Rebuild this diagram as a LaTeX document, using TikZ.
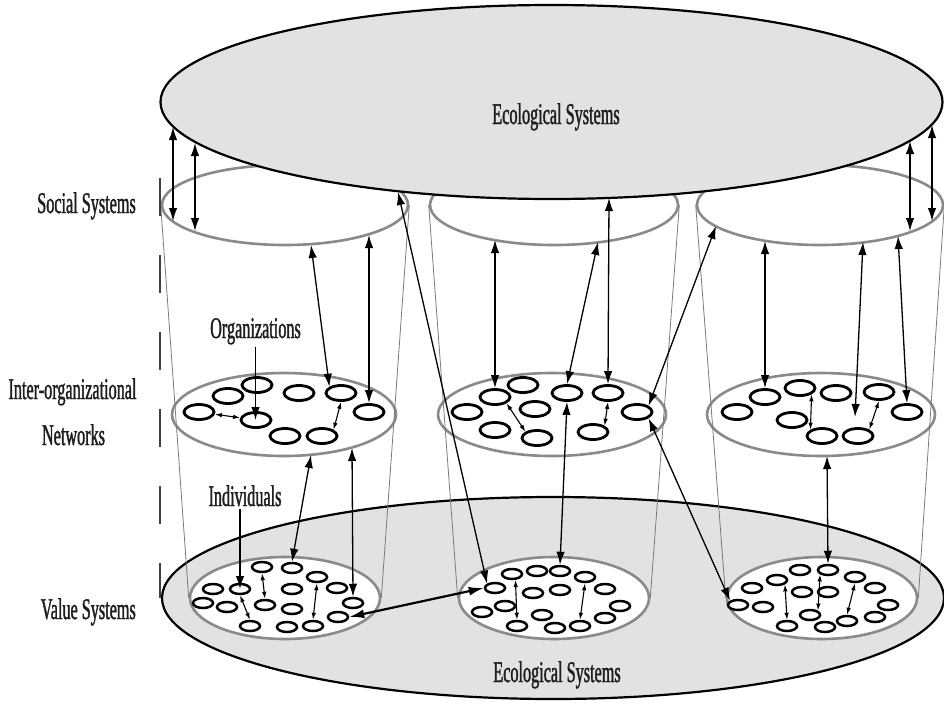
\documentclass[tikz,border=0pt]{standalone}
\usepackage{fontspec}
\newfontfamily\lbl[FakeStretch=0.54,FakeBold=1.2]{Liberation Serif}
\usetikzlibrary{shapes.geometric,arrows.meta,calc}
\definecolor{ecofill}{HTML}{E2E2E2}
\definecolor{discline}{HTML}{8A8A8A}
\definecolor{sideline}{HTML}{7A7A7A}
\definecolor{txt}{HTML}{1E1E1E}
\begin{document}
\begin{tikzpicture}[x=1pt,y=-1pt,
  eco/.style={ellipse, draw=black, line width=2.2pt, fill=ecofill, inner sep=0pt},
  disc/.style={ellipse, draw=discline, line width=2.6pt, fill=white, inner sep=0pt},
  side/.style={draw=sideline, line width=0.8pt},
  org/.style={ellipse, draw=black, line width=2.8pt, fill=white, minimum width=30pt, minimum height=15pt, inner sep=0pt},
  ind/.style={ellipse, draw=black, line width=2.5pt, fill=white, minimum width=20pt, minimum height=10pt, inner sep=0pt},
  dar/.style={{Latex[length=13pt,width=8.5pt]}-{Latex[length=13pt,width=8.5pt]}, line width=1.3pt},
  tdar/.style={{Latex[length=15pt,width=9pt]}-{Latex[length=15pt,width=9pt]}, line width=2.2pt},
  sdar/.style={{Latex[length=7pt,width=4.5pt]}-{Latex[length=7pt,width=4.5pt]}, line width=1.1pt},
  sar/.style={-{Latex[length=13pt,width=8.5pt]}, line width=1.3pt},
  lab/.style={font=\lbl\fontsize{30}{36}\selectfont, text=txt, inner sep=2pt}
]
\useasboundingbox (0,0) rectangle (944,707);

% bottom ecological ellipse
\node[eco, minimum width=782pt, minimum height=202pt] (ecobot) at (553,598) {};

% bottom discs
\node[disc, minimum width=190pt, minimum height=82pt] (bd1) at (285,598) {};
\node[disc, minimum width=190pt, minimum height=82pt] (bd2) at (554,598) {};
\node[disc, minimum width=190pt, minimum height=82pt] (bd3) at (822,598) {};

% middle discs
\node[disc, minimum width=224pt, minimum height=83pt] (md1) at (284,414.5) {};
\node[disc, minimum width=228pt, minimum height=83pt] (md2) at (552,414.5) {};
\node[disc, minimum width=228pt, minimum height=83pt] (md3) at (821,414.5) {};

% social ellipses
\node[disc, minimum width=246pt, minimum height=80pt] (soc1) at (285,205) {};
\node[disc, minimum width=248pt, minimum height=80pt] (soc2) at (554,205) {};
\node[disc, minimum width=246pt, minimum height=80pt] (soc3) at (820,205) {};

% cylinder sides
\draw[side] (soc1.west) -- (bd1.west);
\draw[side] (soc1.east) -- (bd1.east);
\draw[side] (soc2.west) -- (bd2.west);
\draw[side] (soc2.east) -- (bd2.east);
\draw[side] (soc3.west) -- (bd3.west);
\draw[side] (soc3.east) -- (bd3.east);

% top ecological ellipse
\node[eco, minimum width=782pt, minimum height=194pt] (ecotop) at (551.5,102) {};

% organizations (middle discs)
\foreach \n/\x/\y in {L1/257/385, L2/228/396, L3/299/393, L4/341/393, L5/199/412, L6/256/420, L7/369/412, L8/285/436, L9/322/436,
  M1/495/397, M2/523/385, M3/567/393, M4/608/393, M5/467/412, M6/535/409, M7/637/412, M8/495/430, M9/537/438, M10/593/432,
  R1/765/397, R2/800/388, R3/836/393, R4/879/392, R5/737/412, R6/792/420, R7/907/412, R8/822/436, R9/858/436}
  \node[org] (\n) at (\x,\y) {};

% individuals (bottom discs)
\foreach \n/\x/\y in {BL1/262/567, BL2/292/568, BL3/317/577, BL4/213/589, BL5/240/589, BL6/292/589, BL7/337/588, BL8/203/603,
  BL9/227/607, BL10/265/605, BL11/292/609, BL12/353/603, BL13/338/617, BL14/250/626, BL15/287/627, BL16/313/626,
  BM1/512/574, BM2/537/571, BM3/560/571, BM4/585/577, BM5/495/588, BM6/533/593, BM7/560/590, BM8/605/589,
  BM9/482/612, BM10/505/606, BM11/542/615, BM12/620/606, BM13/605/618, BM14/517/626, BM15/555/628, BM16/580/626,
  BR1/800/570, BR2/828/570, BR3/777/580, BR4/855/577, BR5/752/588, BR6/802/592, BR7/828/592, BR8/875/588,
  BR9/738/605, BR10/763/607, BR11/810/615, BR12/888/605, BR13/875/617, BR14/847/621, BR15/787/626, BR16/825/627}
  \node[ind] (\n) at (\x,\y) {};

% labels
\node[lab, anchor=base] (ecot) at (556,124) {Ecological Systems};
\node[lab, anchor=base] (ecob) at (557,682) {Ecological Systems};
\node[lab, anchor=base east] (soclab) at (138,213) {Social Systems};
\node[lab, anchor=base] (netlab1) at (72.5,399) {Inter-organizational};
\node[lab, anchor=base] (netlab2) at (73.5,445) {Networks};
\node[lab, anchor=base east] (vallab) at (138,619) {Value Systems};
\node[lab, anchor=base] (orgs) at (255.5,338) {Organizations};
\node[lab, anchor=base] (indiv) at (245,506) {Individuals};

% named free ends on the large ellipses
\coordinate (a1t) at (173,127);  \coordinate (a1b) at (173,221);
\coordinate (a2t) at (195,143);  \coordinate (a2b) at (195,231);
\coordinate (c1t) at (910,141);  \coordinate (c1b) at (910,231);
\coordinate (c2t) at (932,125);  \coordinate (c2b) at (932,221);
\coordinate (a3t) at (311,245);
\coordinate (a4t) at (369,235);
\coordinate (a5t) at (398,192);
\coordinate (a7t) at (311,455);
\coordinate (a8t) at (352,448);
\coordinate (b1t) at (495,240);
\coordinate (b2t) at (598,242);
\coordinate (b3t) at (609,198);
\coordinate (b4t) at (716,226);
\coordinate (c3t) at (765,241);
\coordinate (c4t) at (863,242);  \coordinate (c4b) at (855,417);
\coordinate (c5t) at (898,236);
\coordinate (c7t) at (827,456);
\coordinate (dtop) at (160,178); \coordinate (dbot) at (160,598);

% dashed guide line
\draw[dash pattern=on 38pt off 39pt, line width=1.5pt, draw=black!75] (dtop) -- (dbot);

% long arrows
\draw[dar] (a1t) -- (a1b);
\draw[dar] (a2t) -- (a2b);
\draw[dar] (c1t) -- (c1b);
\draw[dar] (c2t) -- (c2b);
\draw[dar] (a3t) -- (L4.north west);
\draw[dar] (a4t) -- (L7.north);
\draw[dar] (a5t) -- (BM5.north west);
\draw[tdar] (BL13.east) -- (BM5.west);
\draw[dar] (a7t) -- (BL2.north);
\draw[dar] (a8t) -- (BL12.north);
\draw[dar] (b1t) -- (M1.north);
\draw[dar] (b2t) -- (M3.north);
\draw[dar] (b3t) -- (M4.north);
\draw[dar] (b4t) -- (M7.north east);
\draw[dar] (M3.south) -- (BM3.north);
\draw[dar] (M7.south east) -- (BR9.north west);
\draw[dar] (c3t) -- (R1.north);
\draw[dar] (c4t) -- (c4b);
\draw[dar] (c5t) -- (R7.north);
\draw[dar] (c7t) -- (BR2.north);

% short arrows within discs
\draw[sdar] (L5) -- (L6);
\draw[sdar] (L4.south) -- (L9.north east);
\draw[sdar] (M1.south east) -- (M9.north west);
\draw[sdar] (M4.south) -- (M10.north east);
\draw[sdar] (R2.south east) -- (R8.north west);
\draw[sdar] (R4.south) -- (R9.30);
\draw[sdar] (BL1.south) -- (BL10.north);
\draw[sdar] (BL5.south) -- (BL14.north);
\draw[sdar] (BL3.south) -- (BL16.north);
\draw[sdar] (BM1.-60) -- (BM14.north);
\draw[sdar] (BM4.south) -- (BM16.north);
\draw[sdar] (BR3.south east) -- (BR15.north);
\draw[sdar] (BR2.south west) -- (BR11.north east);
\draw[sdar] (BR4.south) -- (BR14.north);

% label pointers
\draw[sar] (orgs.south) -- (orgs.south |- L6.center);
\draw[sar] (BL5.center |- indiv.south) -- (BL5.center);
\end{tikzpicture}
\end{document}
